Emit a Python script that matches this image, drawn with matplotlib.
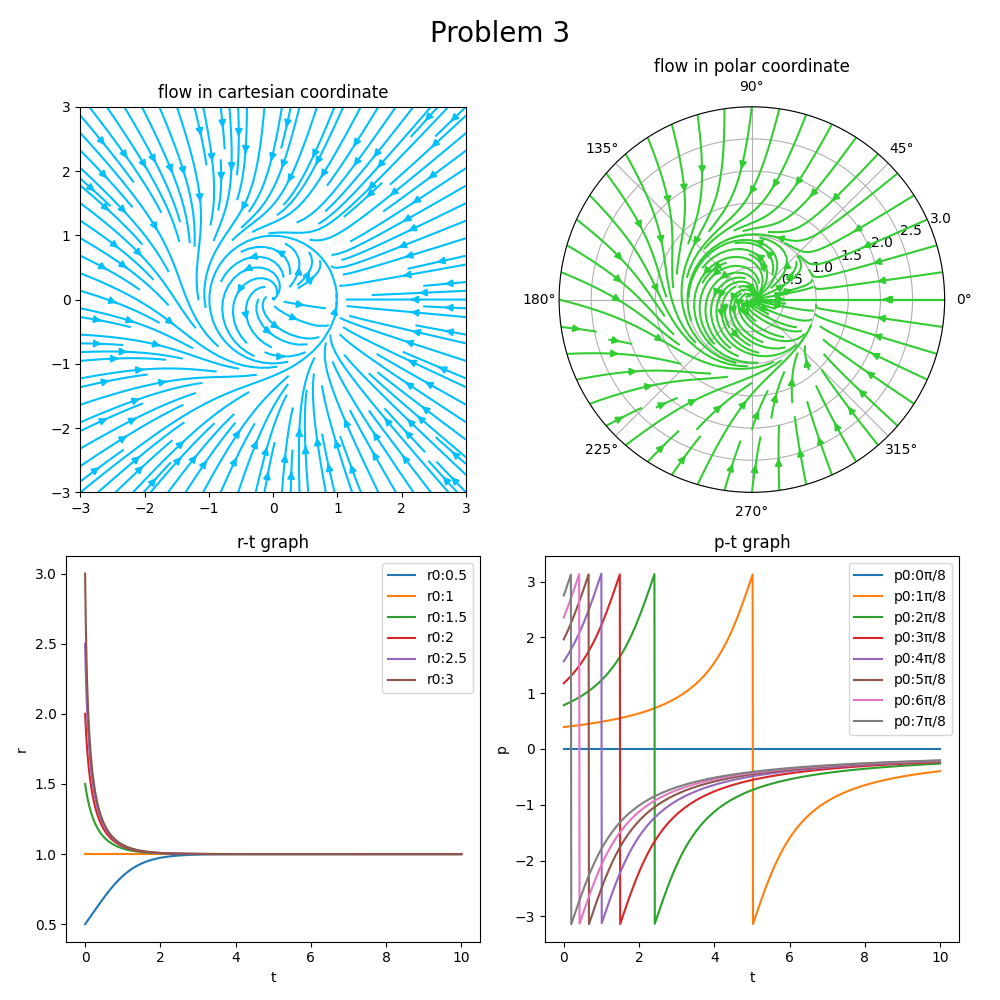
import numpy as np
import matplotlib

matplotlib.use("Agg")
import matplotlib.pyplot as plt  # noqa: E402

# initial conditions and time span
R0 = [0.5, 1, 1.5, 2, 2.5, 3]
P0_K = [0, 1, 2, 3, 4, 5, 6, 7]
T_END = 10
N_T = 1001

# flow domain
XY_LIM = 3
R_MAX = 3


def dr(r):
    return r * (1 - r ** 2)


def dp(p):
    return 1 - np.cos(p)


def r_of_t(r0, t):
    return 1 / np.sqrt(1 + (1 / r0 ** 2 - 1) * np.exp(-2 * t))


def p_of_t(p0, t):
    if p0 == 0:
        return np.zeros_like(t)
    c = 1 / np.tan(p0 / 2) - t
    with np.errstate(divide="ignore"):
        return 2 * np.arctan(1 / c)


fig = plt.figure(figsize=(10, 10), dpi=100)
fig.suptitle("Problem 3", fontsize=20)

# cartesian flow
ax1 = fig.add_subplot(2, 2, 1)
xs = np.linspace(-XY_LIM, XY_LIM, 100)
X, Y = np.meshgrid(xs, xs)
Rg = np.hypot(X, Y)
Pg = np.arctan2(Y, X)
U = dr(Rg) * np.cos(Pg) - Rg * np.sin(Pg) * dp(Pg)
V = dr(Rg) * np.sin(Pg) + Rg * np.cos(Pg) * dp(Pg)
ax1.streamplot(X, Y, U, V, color="deepskyblue", density=1.5)
ax1.set_xlim(-XY_LIM, XY_LIM)
ax1.set_ylim(-XY_LIM, XY_LIM)
ax1.set_aspect("equal")
ax1.set_title("flow in cartesian coordinate")

# polar flow
ax2 = fig.add_subplot(2, 2, 2, projection="polar")
th = np.linspace(0, 2 * np.pi, 100)
rr = np.linspace(0, R_MAX, 100)
TH, RR = np.meshgrid(th, rr)
ax2.streamplot(TH, RR, dp(TH), dr(RR), color="limegreen", density=1.5)
ax2.set_ylim(0, R_MAX)
ax2.set_title("flow in polar coordinate")

t = np.linspace(0, T_END, N_T)

# r-t
ax3 = fig.add_subplot(2, 2, 3)
for r0 in R0:
    ax3.plot(t, r_of_t(r0, t), label=f"r0:{r0}")
ax3.set_xlabel("t")
ax3.set_ylabel("r")
ax3.set_title("r-t graph")
ax3.legend()

# p-t
ax4 = fig.add_subplot(2, 2, 4)
for k in P0_K:
    ax4.plot(t, p_of_t(k * np.pi / 8, t), label=f"p0:{k}π/8")
ax4.set_xlabel("t")
ax4.set_ylabel("p")
ax4.set_title("p-t graph")
ax4.legend()

fig.tight_layout()
fig.savefig("out.png")
